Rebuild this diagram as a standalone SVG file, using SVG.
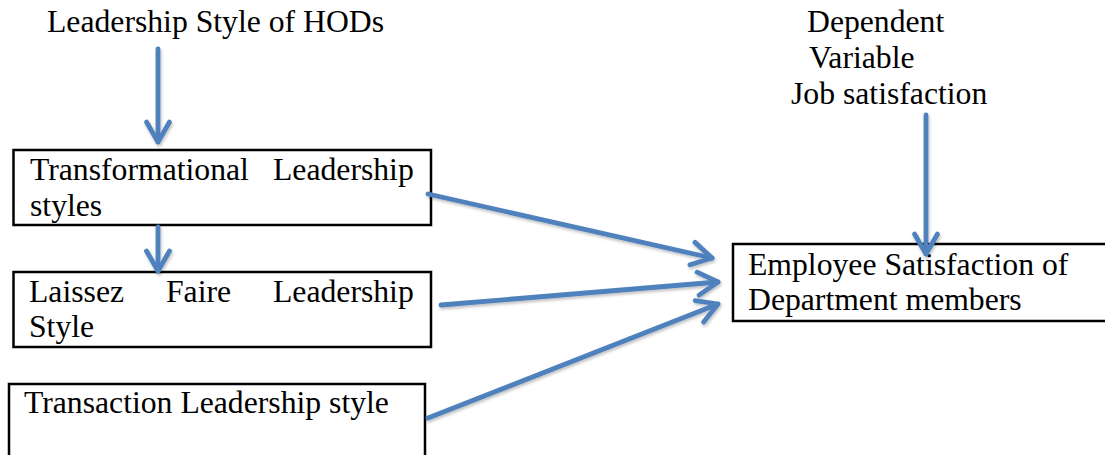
<svg xmlns="http://www.w3.org/2000/svg" width="1105" height="455" viewBox="0 0 1105 455">
<style>
.t{font-family:"Liberation Serif","Times New Roman",serif;font-size:31.7px;fill:#000}
.box{fill:#fff;stroke:#000;stroke-width:2.5}
.con{fill:none;stroke:#4F81BD;stroke-width:4.8;stroke-linecap:round}
</style>
<defs>
<filter id="sh" filterUnits="userSpaceOnUse" x="0" y="0" width="1105" height="455">
<feDropShadow dx="1" dy="2" stdDeviation="1.5" flood-color="#000" flood-opacity="0.25"/>
</filter>
<marker id="ah" markerUnits="userSpaceOnUse" viewBox="-26 -16 30 32" refX="0" refY="0" markerWidth="30" markerHeight="32" orient="auto" overflow="visible">
<path d="M-20,-11.5 L0,0 L-20,11.5" fill="none" stroke="#4F81BD" stroke-width="4.8" stroke-linecap="round" stroke-linejoin="round"/>
</marker>
</defs>
<g id="title">
<text class="t" x="47" y="32">Leadership Style of HODs</text>
</g>
<g id="dependent">
<text class="t" x="807" y="32">Dependent</text>
<text class="t" x="809" y="68">Variable</text>
<text class="t" x="791" y="104">Job satisfaction</text>
</g>
<g id="transformational">
<rect class="box" x="13.5" y="150" width="417.5" height="75"/>
<text class="t" x="30" y="180">Transformational</text>
<text class="t" x="273" y="180">Leadership</text>
<text class="t" x="30" y="216">styles</text>
</g>
<g id="laissez">
<rect class="box" x="13.5" y="272" width="417.5" height="75"/>
<text class="t" x="29" y="302">Laissez</text>
<text class="t" x="166" y="302">Faire</text>
<text class="t" x="273" y="302">Leadership</text>
<text class="t" x="29" y="337">Style</text>
</g>
<g id="transaction">
<rect class="box" x="9" y="384" width="416" height="80"/>
<text class="t" x="24" y="413">Transaction Leadership style</text>
</g>
<g id="employee">
<rect class="box" x="733" y="244" width="390" height="77"/>
<text class="t" x="748" y="275">Employee Satisfaction of</text>
<text class="t" x="748" y="310">Department members</text>
</g>
<g id="connectors" filter="url(#sh)">
<line class="con" x1="158" y1="49" x2="158" y2="142" marker-end="url(#ah)"/>
<line class="con" x1="158" y1="227" x2="158" y2="271" marker-end="url(#ah)"/>
<line class="con" x1="926" y1="115" x2="926" y2="254" marker-end="url(#ah)"/>
<line class="con" x1="428" y1="194" x2="712" y2="258" marker-end="url(#ah)"/>
<line class="con" x1="441" y1="305" x2="718" y2="282" marker-end="url(#ah)"/>
<line class="con" x1="428" y1="418" x2="718" y2="304" marker-end="url(#ah)"/>
</g>
</svg>
